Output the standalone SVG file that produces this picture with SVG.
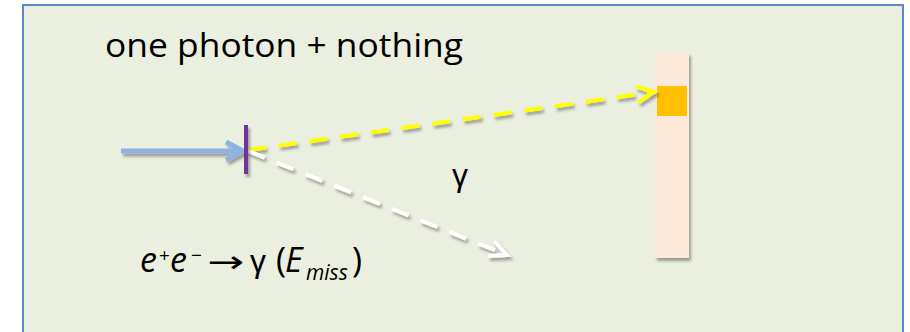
<svg xmlns="http://www.w3.org/2000/svg" width="910" height="332" viewBox="0 0 910 332">
<style>
.t{font-family:"Open Sans","Liberation Sans",sans-serif;fill:#000}
.g{font-family:"Liberation Sans","DejaVu Sans",sans-serif}
.i{font-style:italic}
.dash{fill:none;stroke-width:4;stroke-dasharray:18 13}
</style>
<defs>
<filter id="sh" filterUnits="userSpaceOnUse" x="0" y="0" width="910" height="332">
<feDropShadow dx="2" dy="3" stdDeviation="1.8" flood-color="#000" flood-opacity="0.35"/>
</filter>
<marker id="hBlue" markerUnits="userSpaceOnUse" markerWidth="40" markerHeight="40" refX="0" refY="0" viewBox="-20 -20 40 40" orient="auto" overflow="visible">
<path d="M-17,-9 L0,0 L-17,9" fill="none" stroke="#8db3e2" stroke-width="5"/>
</marker>
<marker id="hYel" markerUnits="userSpaceOnUse" markerWidth="40" markerHeight="40" refX="0" refY="0" viewBox="-20 -20 40 40" orient="auto" overflow="visible">
<path d="M-17,-8 L0,0 L-17,8" fill="none" stroke="#ffff00" stroke-width="4"/>
</marker>
<marker id="hWht" markerUnits="userSpaceOnUse" markerWidth="40" markerHeight="40" refX="0" refY="0" viewBox="-20 -20 40 40" orient="auto" overflow="visible">
<path d="M-17,-8 L0,0 L-17,8" fill="none" stroke="#ffffff" stroke-width="4"/>
</marker>
</defs>
<rect x="23" y="5" width="880" height="345" fill="#ebefdf" stroke="#5b87c5" stroke-width="2"/>
<g id="title"><text class="t" x="105" y="57" font-size="32" textLength="358" lengthAdjust="spacingAndGlyphs">one photon + nothing</text></g>
<g id="detector" filter="url(#sh)">
<rect x="655" y="53" width="34" height="205" fill="#fde9d9"/>
<rect x="657" y="86" width="30" height="30" fill="#ffc000"/>
</g>
<g id="connectors" filter="url(#sh)">
<line x1="121" y1="151" x2="243" y2="151" stroke="#8db3e2" stroke-width="5" marker-end="url(#hBlue)"/>
<line class="dash" x1="248" y1="150" x2="654" y2="92" stroke="#ffff00" marker-end="url(#hYel)"/>
<line class="dash" x1="248" y1="151" x2="507" y2="255" stroke="#ffffff" marker-end="url(#hWht)"/>
</g>
<g id="vertex" filter="url(#sh)"><rect x="244" y="125" width="4" height="49" fill="#7030a0"/></g>
<g id="gamma-label"><text class="t g" x="452" y="186" font-size="32">γ</text></g>
<g id="equation">
<text class="t" font-size="34" y="272"><tspan class="i" x="140">e</tspan><tspan x="159" y="262" font-size="19">+</tspan><tspan class="i" x="170" y="272">e</tspan><tspan x="191" y="262" font-size="19">−</tspan><tspan x="207" y="272" font-family="DejaVu Sans" font-size="30" textLength="37" lengthAdjust="spacingAndGlyphs">→</tspan><tspan class="g" x="250" font-size="32">γ</tspan><tspan x="276">(</tspan><tspan class="i" x="285">E</tspan><tspan class="i" x="306" y="280" font-size="21">miss</tspan><tspan x="352" y="272">)</tspan></text>
</g>
</svg>
